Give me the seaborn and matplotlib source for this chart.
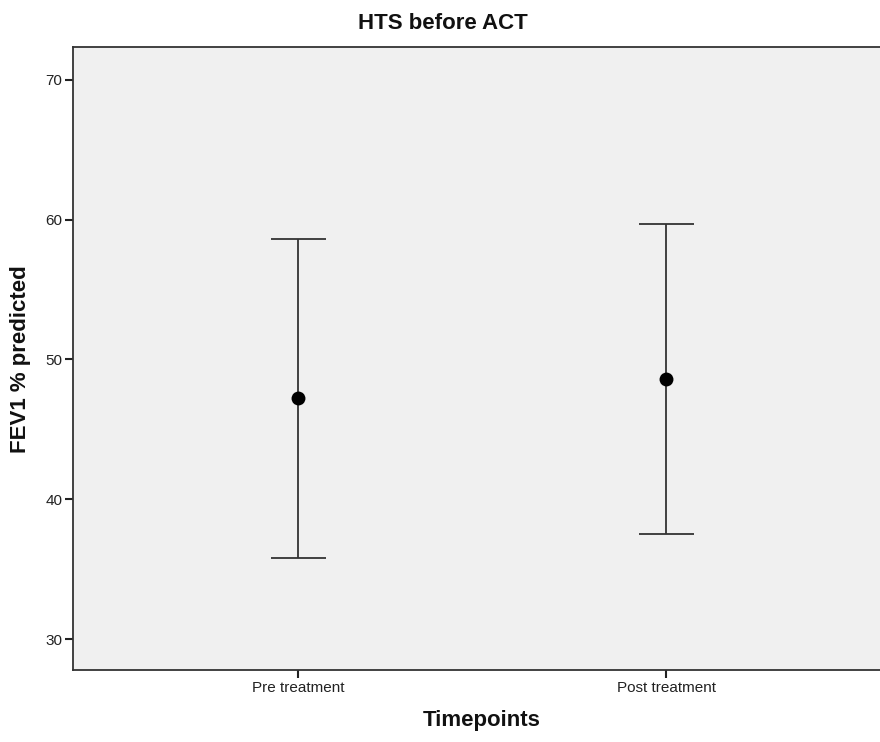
import matplotlib
matplotlib.use("Agg")
import matplotlib.pyplot as plt
import seaborn as sns
import pandas as pd
import numpy as np

categories = ["Pre treatment", "Post treatment"]
means = [47.24, 48.62]
lower = [35.8, 37.55]
upper = [58.64, 59.7]
yticks = [30, 40, 50, 60, 70]

sns.set_theme(style="white")
plt.rcParams["font.family"] = ["Liberation Sans", "DejaVu Sans"]

fig = plt.figure(figsize=(8.8, 7.42), dpi=100)
ax = fig.add_axes([0.0833, 0.097, 0.929, 0.839])
ax.set_facecolor("#F0F0F0")

pos = np.arange(len(categories))
df = pd.DataFrame({"pos": pos, "mean": means, "lo": lower, "hi": upper})

ax.errorbar(df["pos"], df["mean"],
            yerr=[df["mean"] - df["lo"], df["hi"] - df["mean"]],
            fmt="none", ecolor="#333333", elinewidth=1.3,
            capsize=19.8, capthick=1.3, zorder=2)
sns.scatterplot(data=df, x="pos", y="mean", ax=ax, color="black",
                s=100, edgecolor="black", linewidth=0, zorder=3)

ax.set_xlim(-0.611, 1.611)
ax.set_ylim(27.8, 72.3)
ax.set_xticks(pos)
ax.set_xticklabels(categories)
ax.set_yticks(yticks)
ax.set_yticklabels([str(t) for t in yticks])

for s in ["left", "bottom", "top", "right"]:
    ax.spines[s].set_color("#333333")
    ax.spines[s].set_linewidth(1.3)

ax.tick_params(axis="both", direction="out", length=6, width=1.5,
               color="#222222", labelsize=11, labelcolor="#222222", pad=2)
ax.tick_params(axis="y", left=True)
ax.tick_params(axis="x", bottom=True)

ax.set_xlabel("Timepoints", fontsize=16, fontweight="bold", color="#111111")
ax.set_ylabel("FEV1 % predicted", fontsize=16, fontweight="bold", color="#111111")
ax.xaxis.set_label_coords(0.5, -0.064)
ax.yaxis.set_label_coords(-0.052, 0.5)

fig.text(0.503, 0.969, "HTS before ACT", ha="center", va="center",
         fontsize=16, fontweight="bold", color="#111111")

fig.savefig("out.png", dpi=100)
